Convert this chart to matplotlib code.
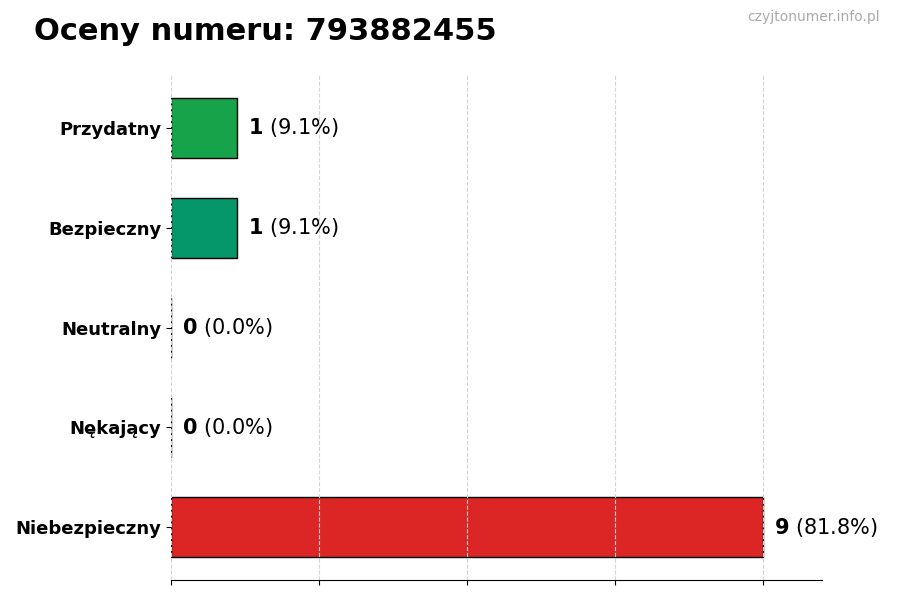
import numpy as np
import matplotlib.pyplot as plt

# dane z wykresu
categories = ['Przydatny', 'Bezpieczny', 'Neutralny', 'Nękający', 'Niebezpieczny']
counts = [1, 1, 0, 0, 9]
percents = [9.1, 9.1, 0.0, 0.0, 81.8]
colors = ['#16a34a', '#059669', '#6b7280', '#f97316', '#dc2626']

fig = plt.figure(figsize=(9, 6), dpi=100)
ax = fig.add_axes([0.19, 0.033, 0.723, 0.842])

y = np.arange(len(categories))[::-1]
ax.barh(y, counts, height=0.6, color=colors, edgecolor='black', linewidth=1, zorder=1)

max_val = max(counts)
ax.set_xlim(0, max_val * 1.1)
ax.set_xticks(np.linspace(0, max_val, 5))
ax.set_xticklabels([])
ax.set_yticks(y)
ax.set_yticklabels(categories, fontsize=13, fontweight='bold')

# siatka pionowa, przerywana
ax.grid(axis='x', linestyle='--', color='#d4d4d4', linewidth=0.8, zorder=2)
ax.set_axisbelow(False)
for s in ['top', 'right', 'left']:
    ax.spines[s].set_visible(False)

for yi, c, p in zip(y, counts, percents):
    ax.text(c + 0.17, yi, r'$\bf{%d}$ (%.1f%%)' % (c, p), va='center', ha='left', fontsize=15)

fig.text(0.038, 0.947, 'Oceny numeru: 793882455', fontsize=22, fontweight='bold', va='center', ha='left')
fig.text(0.978, 0.971, 'czyjtonumer.info.pl', fontsize=10, color='#aaaaaa', va='center', ha='right')

fig.savefig('out.png', dpi=100)
